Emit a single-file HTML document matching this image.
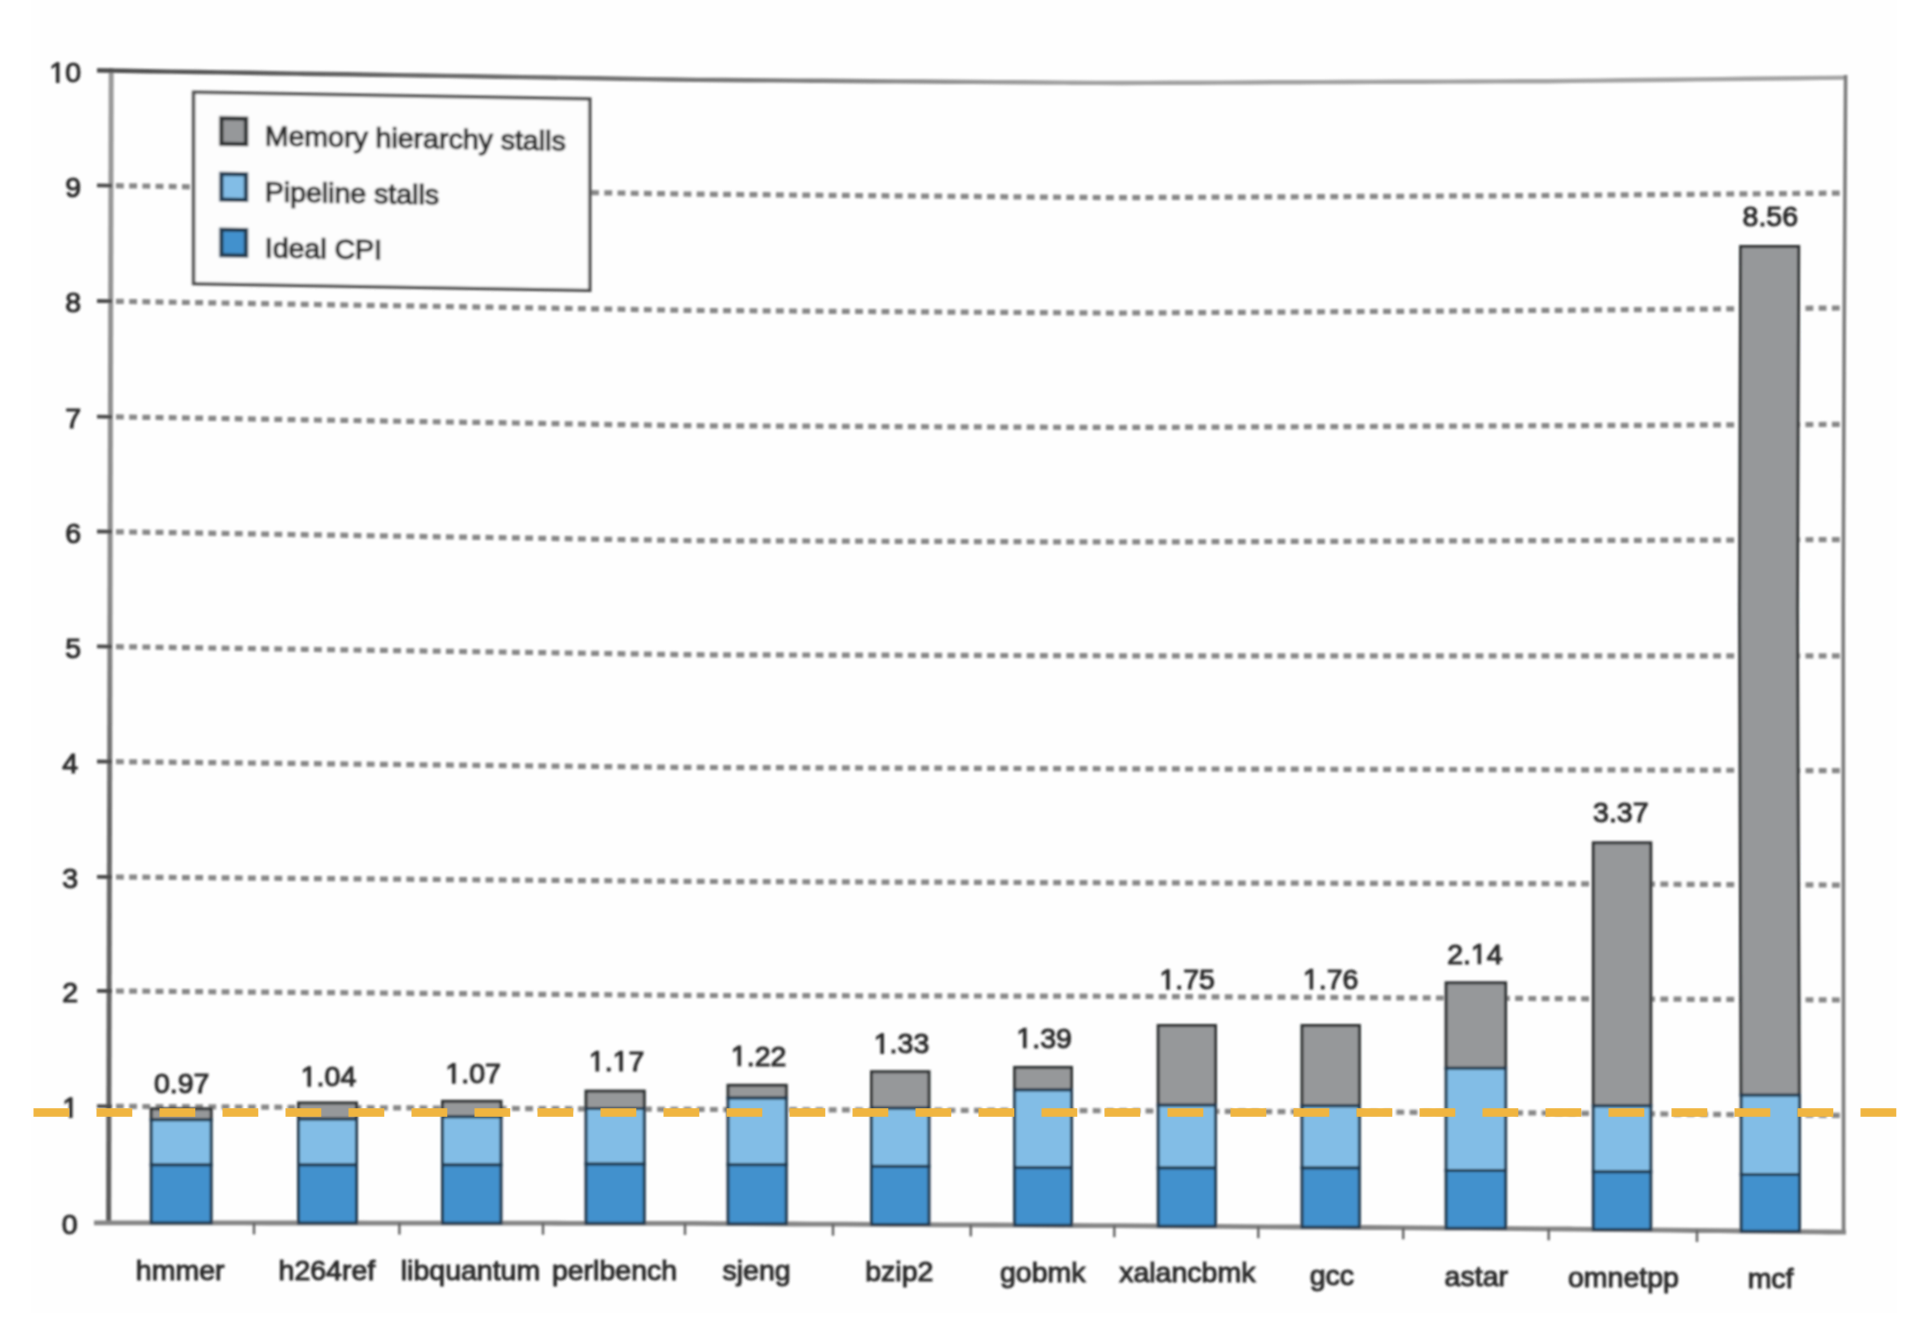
<!DOCTYPE html>
<html><head><meta charset="utf-8"><title>CPI chart</title>
<style>
html,body{margin:0;padding:0;background:#fff;overflow:hidden;}
svg{display:block;}
text{font-family:"Liberation Sans",sans-serif;fill:#2c2c2c;stroke:#2c2c2c;stroke-width:1.05px;}
</style></head><body>
<svg width="1915" height="1342" viewBox="0 0 1915 1342">
<defs>
<filter id="b" x="-5%" y="-5%" width="110%" height="110%"><feGaussianBlur stdDeviation="1.15"/></filter>
<linearGradient id="tl" gradientUnits="userSpaceOnUse" x1="97" y1="0" x2="1847" y2="0">
<stop offset="0" stop-color="#4c4c4c"/><stop offset="0.2" stop-color="#6a6a6a"/><stop offset="0.38" stop-color="#7a7a7a"/><stop offset="0.55" stop-color="#a0a0a0"/><stop offset="1" stop-color="#a4a4a4"/>
</linearGradient>
<linearGradient id="la" gradientUnits="userSpaceOnUse" x1="0" y1="68" x2="0" y2="1224">
<stop offset="0" stop-color="#9a9a9a"/><stop offset="0.45" stop-color="#8a8a8a"/><stop offset="0.65" stop-color="#6a6a6a"/><stop offset="1" stop-color="#5a5a5a"/>
</linearGradient>
</defs>
<rect x="0" y="0" width="1915" height="1342" fill="#ffffff"/>
<rect x="31" y="0" width="1866" height="1313" fill="#fefefe"/>
<g filter="url(#b)">
<line x1="111.2" y1="68" x2="108.6" y2="1224" stroke="url(#la)" stroke-width="5.0"/>
<polyline points="116.0,1106.3 141.0,1106.5 166.0,1106.6 191.0,1106.7 216.0,1106.9 241.0,1107.0 266.0,1107.1 291.0,1107.3 316.0,1107.4 341.0,1107.5 366.0,1107.7 391.0,1107.8 416.0,1107.9 441.0,1108.1 466.0,1108.2 491.0,1108.3 516.0,1108.5 541.0,1108.6 566.0,1108.7 591.0,1108.9 616.0,1109.0 641.0,1109.1 666.0,1109.3 691.0,1109.4 716.0,1109.5 741.0,1109.6 766.0,1109.7 791.0,1109.7 816.0,1109.8 841.0,1109.9 866.0,1110.0 891.0,1110.1 916.0,1110.1 941.0,1110.2 966.0,1110.3 991.0,1110.4 1016.0,1110.5 1041.0,1110.6 1066.0,1110.6 1091.0,1110.7 1116.0,1110.8 1141.0,1110.9 1166.0,1111.1 1191.0,1111.2 1216.0,1111.3 1241.0,1111.4 1266.0,1111.6 1291.0,1111.7 1316.0,1111.8 1341.0,1111.9 1366.0,1112.1 1391.0,1112.2 1416.0,1112.3 1441.0,1112.5 1466.0,1112.6 1491.0,1112.7 1516.0,1112.8 1541.0,1113.0 1566.0,1113.1 1591.0,1113.4 1616.0,1113.6 1641.0,1113.8 1666.0,1114.0 1691.0,1114.2 1716.0,1114.4 1741.0,1114.6 1766.0,1114.8 1791.0,1115.0 1816.0,1115.2 1841.0,1115.4 1843.0,1115.4" fill="none" stroke="#878787" stroke-width="5.2" stroke-dasharray="7.8 5.4"/>
<polyline points="116.0,991.0 141.0,991.2 166.0,991.4 191.0,991.6 216.0,991.8 241.0,992.0 266.0,992.2 291.0,992.4 316.0,992.6 341.0,992.7 366.0,992.9 391.0,993.1 416.0,993.3 441.0,993.5 466.0,993.7 491.0,993.9 516.0,994.1 541.0,994.3 566.0,994.5 591.0,994.6 616.0,994.8 641.0,995.0 666.0,995.2 691.0,995.4 716.0,995.5 741.0,995.5 766.0,995.6 791.0,995.6 816.0,995.7 841.0,995.7 866.0,995.8 891.0,995.8 916.0,995.9 941.0,995.9 966.0,996.0 991.0,996.0 1016.0,996.1 1041.0,996.1 1066.0,996.2 1091.0,996.2 1116.0,996.3 1141.0,996.4 1166.0,996.6 1191.0,996.7 1216.0,996.8 1241.0,997.0 1266.0,997.1 1291.0,997.2 1316.0,997.4 1341.0,997.5 1366.0,997.6 1391.0,997.8 1416.0,997.9 1441.0,998.0 1466.0,998.2 1491.0,998.3 1516.0,998.4 1541.0,998.6 1566.0,998.7 1591.0,998.8 1616.0,998.9 1641.0,999.0 1666.0,999.1 1691.0,999.3 1716.0,999.4 1741.0,999.5 1766.0,999.6 1791.0,999.7 1816.0,999.8 1841.0,1000.0 1843.0,1000.0" fill="none" stroke="#878787" stroke-width="5.2" stroke-dasharray="7.8 5.4"/>
<polyline points="116.0,877.0 141.0,877.2 166.0,877.4 191.0,877.6 216.0,877.8 241.0,878.0 266.0,878.2 291.0,878.4 316.0,878.6 341.0,878.7 366.0,878.9 391.0,879.1 416.0,879.3 441.0,879.5 466.0,879.7 491.0,879.9 516.0,880.1 541.0,880.3 566.0,880.5 591.0,880.6 616.0,880.8 641.0,881.0 666.0,881.2 691.0,881.4 716.0,881.5 741.0,881.6 766.0,881.7 791.0,881.7 816.0,881.8 841.0,881.9 866.0,882.0 891.0,882.1 916.0,882.1 941.0,882.2 966.0,882.3 991.0,882.4 1016.0,882.5 1041.0,882.6 1066.0,882.6 1091.0,882.7 1116.0,882.8 1141.0,882.9 1166.0,882.9 1191.0,883.0 1216.0,883.0 1241.0,883.1 1266.0,883.1 1291.0,883.2 1316.0,883.2 1341.0,883.3 1366.0,883.3 1391.0,883.4 1416.0,883.4 1441.0,883.5 1466.0,883.5 1491.0,883.6 1516.0,883.6 1541.0,883.7 1566.0,883.8 1591.0,883.9 1616.0,884.0 1641.0,884.1 1666.0,884.2 1691.0,884.4 1716.0,884.5 1741.0,884.6 1766.0,884.7 1791.0,884.8 1816.0,884.9 1841.0,885.1 1843.0,885.1" fill="none" stroke="#878787" stroke-width="5.2" stroke-dasharray="7.8 5.4"/>
<polyline points="116.0,761.7 141.0,761.9 166.0,762.2 191.0,762.4 216.0,762.7 241.0,762.9 266.0,763.2 291.0,763.4 316.0,763.7 341.0,763.9 366.0,764.2 391.0,764.4 416.0,764.7 441.0,764.9 466.0,765.2 491.0,765.4 516.0,765.7 541.0,765.9 566.0,766.2 591.0,766.4 616.0,766.7 641.0,766.9 666.0,767.2 691.0,767.4 716.0,767.5 741.0,767.6 766.0,767.7 791.0,767.7 816.0,767.8 841.0,767.9 866.0,768.0 891.0,768.1 916.0,768.1 941.0,768.2 966.0,768.3 991.0,768.4 1016.0,768.5 1041.0,768.6 1066.0,768.6 1091.0,768.7 1116.0,768.8 1141.0,768.9 1166.0,768.9 1191.0,769.0 1216.0,769.0 1241.0,769.1 1266.0,769.1 1291.0,769.2 1316.0,769.2 1341.0,769.3 1366.0,769.3 1391.0,769.4 1416.0,769.4 1441.0,769.5 1466.0,769.5 1491.0,769.6 1516.0,769.6 1541.0,769.7 1566.0,769.8 1591.0,769.8 1616.0,769.9 1641.0,770.0 1666.0,770.1 1691.0,770.2 1716.0,770.2 1741.0,770.3 1766.0,770.4 1791.0,770.5 1816.0,770.6 1841.0,770.6 1843.0,770.6" fill="none" stroke="#878787" stroke-width="5.2" stroke-dasharray="7.8 5.4"/>
<polyline points="116.0,646.7 141.0,647.0 166.0,647.4 191.0,647.7 216.0,648.1 241.0,648.4 266.0,648.8 291.0,649.1 316.0,649.5 341.0,649.8 366.0,650.2 391.0,650.5 416.0,650.9 441.0,651.2 466.0,651.6 491.0,651.9 516.0,652.3 541.0,652.6 566.0,653.0 591.0,653.3 616.0,653.7 641.0,654.0 666.0,654.4 691.0,654.7 716.0,654.8 741.0,654.8 766.0,654.9 791.0,655.0 816.0,655.0 841.0,655.1 866.0,655.2 891.0,655.2 916.0,655.3 941.0,655.3 966.0,655.4 991.0,655.5 1016.0,655.5 1041.0,655.6 1066.0,655.7 1091.0,655.7 1116.0,655.8 1141.0,655.8 1166.0,655.8 1191.0,655.8 1216.0,655.8 1241.0,655.8 1266.0,655.8 1291.0,655.8 1316.0,655.8 1341.0,655.8 1366.0,655.8 1391.0,655.8 1416.0,655.8 1441.0,655.8 1466.0,655.8 1491.0,655.8 1516.0,655.8 1541.0,655.8 1566.0,655.8 1591.0,655.8 1616.0,655.8 1641.0,655.8 1666.0,655.8 1691.0,655.8 1716.0,655.8 1741.0,655.8 1766.0,655.8 1791.0,655.8 1816.0,655.8 1841.0,655.8 1843.0,655.8" fill="none" stroke="#878787" stroke-width="5.2" stroke-dasharray="7.8 5.4"/>
<polyline points="116.0,531.8 141.0,532.2 166.0,532.5 191.0,532.9 216.0,533.3 241.0,533.7 266.0,534.1 291.0,534.5 316.0,534.9 341.0,535.2 366.0,535.6 391.0,536.0 416.0,536.4 441.0,536.8 466.0,537.2 491.0,537.5 516.0,537.9 541.0,538.3 566.0,538.7 591.0,539.1 616.0,539.5 641.0,539.8 666.0,540.2 691.0,540.6 716.0,540.7 741.0,540.8 766.0,540.9 791.0,540.9 816.0,541.0 841.0,541.1 866.0,541.2 891.0,541.3 916.0,541.3 941.0,541.4 966.0,541.5 991.0,541.6 1016.0,541.7 1041.0,541.8 1066.0,541.8 1091.0,541.9 1116.0,542.0 1141.0,541.9 1166.0,541.8 1191.0,541.8 1216.0,541.7 1241.0,541.6 1266.0,541.5 1291.0,541.4 1316.0,541.4 1341.0,541.3 1366.0,541.2 1391.0,541.1 1416.0,541.0 1441.0,540.9 1466.0,540.9 1491.0,540.8 1516.0,540.7 1541.0,540.6 1566.0,540.5 1591.0,540.5 1616.0,540.4 1641.0,540.3 1666.0,540.2 1691.0,540.1 1716.0,540.1 1741.0,540.0 1766.0,539.9 1791.0,539.8 1816.0,539.7 1841.0,539.7 1843.0,539.7" fill="none" stroke="#878787" stroke-width="5.2" stroke-dasharray="7.8 5.4"/>
<polyline points="116.0,416.9 141.0,417.3 166.0,417.6 191.0,418.0 216.0,418.4 241.0,418.8 266.0,419.2 291.0,419.6 316.0,420.0 341.0,420.3 366.0,420.7 391.0,421.1 416.0,421.5 441.0,421.9 466.0,422.3 491.0,422.6 516.0,423.0 541.0,423.4 566.0,423.8 591.0,424.2 616.0,424.6 641.0,424.9 666.0,425.3 691.0,425.7 716.0,425.8 741.0,425.9 766.0,426.0 791.0,426.1 816.0,426.2 841.0,426.3 866.0,426.4 891.0,426.6 916.0,426.7 941.0,426.8 966.0,426.9 991.0,427.0 1016.0,427.1 1041.0,427.2 1066.0,427.3 1091.0,427.4 1116.0,427.5 1141.0,427.4 1166.0,427.3 1191.0,427.2 1216.0,427.1 1241.0,427.0 1266.0,426.9 1291.0,426.8 1316.0,426.7 1341.0,426.6 1366.0,426.5 1391.0,426.4 1416.0,426.2 1441.0,426.1 1466.0,426.0 1491.0,425.9 1516.0,425.8 1541.0,425.7 1566.0,425.6 1591.0,425.5 1616.0,425.4 1641.0,425.3 1666.0,425.2 1691.0,425.0 1716.0,424.9 1741.0,424.8 1766.0,424.7 1791.0,424.6 1816.0,424.5 1841.0,424.3 1843.0,424.3" fill="none" stroke="#878787" stroke-width="5.2" stroke-dasharray="7.8 5.4"/>
<polyline points="116.0,301.3 141.0,301.7 166.0,302.1 191.0,302.5 216.0,302.9 241.0,303.3 266.0,303.7 291.0,304.1 316.0,304.5 341.0,304.9 366.0,305.3 391.0,305.6 416.0,306.0 441.0,306.4 466.0,306.8 491.0,307.2 516.0,307.6 541.0,308.0 566.0,308.4 591.0,308.8 616.0,309.2 641.0,309.6 666.0,310.0 691.0,310.4 716.0,310.6 741.0,310.7 766.0,310.9 791.0,311.0 816.0,311.2 841.0,311.4 866.0,311.5 891.0,311.7 916.0,311.8 941.0,312.0 966.0,312.2 991.0,312.3 1016.0,312.5 1041.0,312.6 1066.0,312.8 1091.0,312.9 1116.0,313.1 1141.0,312.9 1166.0,312.8 1191.0,312.6 1216.0,312.5 1241.0,312.3 1266.0,312.2 1291.0,312.0 1316.0,311.8 1341.0,311.7 1366.0,311.5 1391.0,311.4 1416.0,311.2 1441.0,311.1 1466.0,310.9 1491.0,310.8 1516.0,310.6 1541.0,310.4 1566.0,310.3 1591.0,310.0 1616.0,309.8 1641.0,309.6 1666.0,309.4 1691.0,309.2 1716.0,309.0 1741.0,308.8 1766.0,308.6 1791.0,308.4 1816.0,308.2 1841.0,308.0 1843.0,308.0" fill="none" stroke="#878787" stroke-width="5.2" stroke-dasharray="7.8 5.4"/>
<polyline points="116.0,185.7 141.0,186.0 166.0,186.4 191.0,186.8 216.0,187.1 241.0,187.5 266.0,187.9 291.0,188.2 316.0,188.6 341.0,189.0 366.0,189.3 391.0,189.7 416.0,190.1 441.0,190.4 466.0,190.8 491.0,191.2 516.0,191.5 541.0,191.9 566.0,192.3 591.0,192.6 616.0,193.0 641.0,193.4 666.0,193.7 691.0,194.1 716.0,194.3 741.0,194.5 766.0,194.7 791.0,195.0 816.0,195.2 841.0,195.4 866.0,195.6 891.0,195.8 916.0,196.0 941.0,196.2 966.0,196.4 991.0,196.6 1016.0,196.9 1041.0,197.1 1066.0,197.3 1091.0,197.5 1116.0,197.7 1141.0,197.6 1166.0,197.4 1191.0,197.3 1216.0,197.2 1241.0,197.1 1266.0,196.9 1291.0,196.8 1316.0,196.7 1341.0,196.6 1366.0,196.4 1391.0,196.3 1416.0,196.2 1441.0,196.0 1466.0,195.9 1491.0,195.8 1516.0,195.7 1541.0,195.5 1566.0,195.4 1591.0,195.1 1616.0,194.9 1641.0,194.7 1666.0,194.5 1691.0,194.3 1716.0,194.1 1741.0,193.9 1766.0,193.7 1791.0,193.5 1816.0,193.3 1841.0,193.1 1843.0,193.1" fill="none" stroke="#878787" stroke-width="5.2" stroke-dasharray="7.8 5.4"/>
<line x1="97" y1="1222.8" x2="112" y2="1222.8" stroke="#4a4a4a" stroke-width="3.8"/>
<line x1="97" y1="1106.2" x2="112" y2="1106.3" stroke="#4a4a4a" stroke-width="3.8"/>
<line x1="97" y1="990.9" x2="112" y2="991.0" stroke="#4a4a4a" stroke-width="3.8"/>
<line x1="97" y1="876.9" x2="112" y2="877.0" stroke="#4a4a4a" stroke-width="3.8"/>
<line x1="97" y1="761.5" x2="112" y2="761.6" stroke="#4a4a4a" stroke-width="3.8"/>
<line x1="97" y1="646.4" x2="112" y2="646.6" stroke="#4a4a4a" stroke-width="3.8"/>
<line x1="97" y1="531.5" x2="112" y2="531.7" stroke="#4a4a4a" stroke-width="3.8"/>
<line x1="97" y1="416.6" x2="112" y2="416.8" stroke="#4a4a4a" stroke-width="3.8"/>
<line x1="97" y1="301.0" x2="112" y2="301.2" stroke="#4a4a4a" stroke-width="3.8"/>
<line x1="97" y1="185.4" x2="112" y2="185.6" stroke="#4a4a4a" stroke-width="3.8"/>
<line x1="97" y1="70.4" x2="112" y2="70.6" stroke="#4a4a4a" stroke-width="3.8"/>
<polyline points="97.0,70.4 122.0,70.8 147.0,71.2 172.0,71.6 197.0,72.0 222.0,72.4 247.0,72.8 272.0,73.2 297.0,73.6 322.0,74.0 347.0,74.3 372.0,74.7 397.0,75.1 422.0,75.5 447.0,75.9 472.0,76.3 497.0,76.7 522.0,77.1 547.0,77.5 572.0,77.9 597.0,78.3 622.0,78.7 647.0,79.1 672.0,79.5 697.0,79.9 722.0,80.0 747.0,80.2 772.0,80.4 797.0,80.6 822.0,80.8 847.0,81.0 872.0,81.2 897.0,81.4 922.0,81.5 947.0,81.7 972.0,81.9 997.0,82.1 1022.0,82.3 1047.0,82.5 1072.0,82.7 1097.0,82.9 1122.0,83.0 1147.0,82.9 1172.0,82.8 1197.0,82.7 1222.0,82.6 1247.0,82.5 1272.0,82.3 1297.0,82.2 1322.0,82.1 1347.0,82.0 1372.0,81.9 1397.0,81.8 1422.0,81.7 1447.0,81.6 1472.0,81.5 1497.0,81.4 1522.0,81.3 1547.0,81.2 1572.0,80.9 1597.0,80.6 1622.0,80.3 1647.0,80.0 1672.0,79.7 1697.0,79.4 1722.0,79.1 1747.0,78.8 1772.0,78.5 1797.0,78.2 1822.0,77.9 1847.0,77.6" fill="none" stroke="url(#tl)" stroke-width="4.4"/>
<polyline points="1845.6,75 1844.2,330 1843.2,610 1843.4,900 1843.6,1233" fill="none" stroke="#7a7a7a" stroke-width="3.6"/>
<polyline points="94.0,1222.8 119.0,1222.8 144.0,1222.8 169.0,1222.9 194.0,1222.9 219.0,1222.9 244.0,1222.9 269.0,1223.0 294.0,1223.0 319.0,1223.0 344.0,1223.0 369.0,1223.1 394.0,1223.1 419.0,1223.1 444.0,1223.1 469.0,1223.2 494.0,1223.2 519.0,1223.2 544.0,1223.2 569.0,1223.3 594.0,1223.3 619.0,1223.3 644.0,1223.4 669.0,1223.4 694.0,1223.4 719.0,1223.6 744.0,1223.7 769.0,1223.8 794.0,1224.0 819.0,1224.1 844.0,1224.2 869.0,1224.4 894.0,1224.5 919.0,1224.6 944.0,1224.8 969.0,1224.9 994.0,1225.0 1019.0,1225.2 1044.0,1225.3 1069.0,1225.5 1094.0,1225.6 1119.0,1225.7 1144.0,1225.9 1169.0,1226.1 1194.0,1226.3 1219.0,1226.4 1244.0,1226.6 1269.0,1226.8 1294.0,1227.0 1319.0,1227.2 1344.0,1227.3 1369.0,1227.5 1394.0,1227.7 1419.0,1227.9 1444.0,1228.1 1469.0,1228.2 1494.0,1228.4 1519.0,1228.6 1544.0,1228.8 1569.0,1229.0 1594.0,1229.3 1619.0,1229.6 1644.0,1229.9 1669.0,1230.2 1694.0,1230.5 1719.0,1230.7 1744.0,1231.0 1769.0,1231.3 1794.0,1231.6 1819.0,1231.9 1844.0,1232.2 1846.0,1232.2" fill="none" stroke="#858585" stroke-width="4.8"/>
<line x1="254" y1="1222.9" x2="254" y2="1234.4" stroke="#5e5e5e" stroke-width="2.4"/>
<line x1="399.4" y1="1223.1" x2="399.4" y2="1234.6" stroke="#5e5e5e" stroke-width="2.4"/>
<line x1="543" y1="1223.2" x2="543" y2="1234.7" stroke="#5e5e5e" stroke-width="2.4"/>
<line x1="685" y1="1223.4" x2="685" y2="1234.9" stroke="#5e5e5e" stroke-width="2.4"/>
<line x1="833" y1="1224.2" x2="833" y2="1235.7" stroke="#5e5e5e" stroke-width="2.4"/>
<line x1="970.8" y1="1224.9" x2="970.8" y2="1236.4" stroke="#5e5e5e" stroke-width="2.4"/>
<line x1="1114.3" y1="1225.7" x2="1114.3" y2="1237.2" stroke="#5e5e5e" stroke-width="2.4"/>
<line x1="1258.3" y1="1226.7" x2="1258.3" y2="1238.2" stroke="#5e5e5e" stroke-width="2.4"/>
<line x1="1403.2" y1="1227.8" x2="1403.2" y2="1239.3" stroke="#5e5e5e" stroke-width="2.4"/>
<line x1="1548.7" y1="1228.8" x2="1548.7" y2="1240.3" stroke="#5e5e5e" stroke-width="2.4"/>
<line x1="1697" y1="1230.5" x2="1697" y2="1242.0" stroke="#5e5e5e" stroke-width="2.4"/>
<text x="61.65" y="1233.99" font-size="28.5">0</text>
<text x="62.35" y="1117.43" font-size="28.5"> </text>
<path d="M515,0L515,1237L197,1010L197,1180L530,1409L696,1409L696,0Z" transform="translate(62.35 1117.43) scale(0.01392 -0.01392)" fill="#2c2c2c" stroke="#2c2c2c" stroke-width="75.5"/>
<text x="62.35" y="1002.09" font-size="28.5">2</text>
<text x="62.35" y="888.09" font-size="28.5">3</text>
<text x="62.35" y="772.66" font-size="28.5">4</text>
<text x="65.15" y="657.60" font-size="28.5">5</text>
<text x="65.15" y="542.68" font-size="28.5">6</text>
<text x="65.15" y="427.78" font-size="28.5">7</text>
<text x="65.15" y="312.18" font-size="28.5">8</text>
<text x="65.15" y="196.59" font-size="28.5">9</text>
<text x="49.30" y="82.38" font-size="28.5"> 0</text>
<path d="M515,0L515,1237L197,1010L197,1180L530,1409L696,1409L696,0Z" transform="translate(49.30 82.38) scale(0.01392 -0.01392)" fill="#2c2c2c" stroke="#2c2c2c" stroke-width="75.5"/>
<rect x="151.2" y="1108.8" width="60.0" height="11.0" fill="#96989a" stroke="#2e3032" stroke-width="3.0"/>
<rect x="151.2" y="1119.8" width="60.0" height="45.1" fill="#82bde6" stroke="#203a50" stroke-width="3.0"/>
<rect x="151.2" y="1164.9" width="60.0" height="58.0" fill="#4391cd" stroke="#203a50" stroke-width="3.0"/>
<text x="153.97" y="1092.50" font-size="28.5">0.97</text>
<text x="180.2" y="1279.5" font-size="28.5" text-anchor="middle">hmmer</text>
<rect x="298.5" y="1102.9" width="58.0" height="16.2" fill="#96989a" stroke="#2e3032" stroke-width="3.0"/>
<rect x="298.5" y="1119.1" width="58.0" height="45.8" fill="#82bde6" stroke="#203a50" stroke-width="3.0"/>
<rect x="298.5" y="1164.9" width="58.0" height="58.1" fill="#4391cd" stroke="#203a50" stroke-width="3.0"/>
<text x="300.77" y="1086.30" font-size="28.5"> .04</text>
<path d="M515,0L515,1237L197,1010L197,1180L530,1409L696,1409L696,0Z" transform="translate(300.77 1086.30) scale(0.01392 -0.01392)" fill="#2c2c2c" stroke="#2c2c2c" stroke-width="75.5"/>
<text x="326.9" y="1279.8" font-size="28.5" text-anchor="middle">h264ref</text>
<rect x="442.5" y="1101.3" width="58.5" height="15.5" fill="#96989a" stroke="#2e3032" stroke-width="3.0"/>
<rect x="442.5" y="1116.8" width="58.5" height="48.1" fill="#82bde6" stroke="#203a50" stroke-width="3.0"/>
<rect x="442.5" y="1164.9" width="58.5" height="58.3" fill="#4391cd" stroke="#203a50" stroke-width="3.0"/>
<text x="445.37" y="1083.10" font-size="28.5"> .07</text>
<path d="M515,0L515,1237L197,1010L197,1180L530,1409L696,1409L696,0Z" transform="translate(445.37 1083.10) scale(0.01392 -0.01392)" fill="#2c2c2c" stroke="#2c2c2c" stroke-width="75.5"/>
<text x="470.5" y="1279.5" font-size="28.5" text-anchor="middle">libquantum</text>
<rect x="586.0" y="1091.1" width="58.3" height="17.4" fill="#96989a" stroke="#2e3032" stroke-width="3.0"/>
<rect x="586.0" y="1108.5" width="58.3" height="55.6" fill="#82bde6" stroke="#203a50" stroke-width="3.0"/>
<rect x="586.0" y="1164.1" width="58.3" height="59.2" fill="#4391cd" stroke="#203a50" stroke-width="3.0"/>
<text x="588.87" y="1070.90" font-size="28.5"> . 7</text>
<path d="M515,0L515,1237L197,1010L197,1180L530,1409L696,1409L696,0Z" transform="translate(588.87 1070.90) scale(0.01392 -0.01392)" fill="#2c2c2c" stroke="#2c2c2c" stroke-width="75.5"/>
<path d="M515,0L515,1237L197,1010L197,1180L530,1409L696,1409L696,0Z" transform="translate(612.63 1070.90) scale(0.01392 -0.01392)" fill="#2c2c2c" stroke="#2c2c2c" stroke-width="75.5"/>
<text x="614.5" y="1280.0" font-size="28.5" text-anchor="middle">perlbench</text>
<rect x="728.0" y="1085.3" width="58.3" height="12.8" fill="#96989a" stroke="#2e3032" stroke-width="3.0"/>
<rect x="728.0" y="1098.1" width="58.3" height="66.6" fill="#82bde6" stroke="#203a50" stroke-width="3.0"/>
<rect x="728.0" y="1164.7" width="58.3" height="59.1" fill="#4391cd" stroke="#203a50" stroke-width="3.0"/>
<text x="730.87" y="1065.70" font-size="28.5"> .22</text>
<path d="M515,0L515,1237L197,1010L197,1180L530,1409L696,1409L696,0Z" transform="translate(730.87 1065.70) scale(0.01392 -0.01392)" fill="#2c2c2c" stroke="#2c2c2c" stroke-width="75.5"/>
<text x="756.6" y="1280.3" font-size="28.5" text-anchor="middle">sjeng</text>
<rect x="871.5" y="1071.7" width="57.5" height="36.5" fill="#96989a" stroke="#2e3032" stroke-width="3.0"/>
<rect x="871.5" y="1108.2" width="57.5" height="58.2" fill="#82bde6" stroke="#203a50" stroke-width="3.0"/>
<rect x="871.5" y="1166.4" width="57.5" height="58.1" fill="#4391cd" stroke="#203a50" stroke-width="3.0"/>
<text x="873.77" y="1053.40" font-size="28.5"> .33</text>
<path d="M515,0L515,1237L197,1010L197,1180L530,1409L696,1409L696,0Z" transform="translate(873.77 1053.40) scale(0.01392 -0.01392)" fill="#2c2c2c" stroke="#2c2c2c" stroke-width="75.5"/>
<text x="899.3" y="1280.6" font-size="28.5" text-anchor="middle">bzip2</text>
<rect x="1014.6" y="1067.4" width="56.9" height="22.6" fill="#96989a" stroke="#2e3032" stroke-width="3.0"/>
<rect x="1014.6" y="1090.0" width="56.9" height="77.6" fill="#82bde6" stroke="#203a50" stroke-width="3.0"/>
<rect x="1014.6" y="1167.6" width="56.9" height="57.7" fill="#4391cd" stroke="#203a50" stroke-width="3.0"/>
<text x="1016.37" y="1047.80" font-size="28.5"> .39</text>
<path d="M515,0L515,1237L197,1010L197,1180L530,1409L696,1409L696,0Z" transform="translate(1016.37 1047.80) scale(0.01392 -0.01392)" fill="#2c2c2c" stroke="#2c2c2c" stroke-width="75.5"/>
<text x="1042.8" y="1282.3" font-size="28.5" text-anchor="middle">gobmk</text>
<rect x="1158.2" y="1025.5" width="57.3" height="79.7" fill="#96989a" stroke="#2e3032" stroke-width="3.0"/>
<rect x="1158.2" y="1105.2" width="57.3" height="62.8" fill="#82bde6" stroke="#203a50" stroke-width="3.0"/>
<rect x="1158.2" y="1168.0" width="57.3" height="58.2" fill="#4391cd" stroke="#203a50" stroke-width="3.0"/>
<text x="1159.47" y="989.30" font-size="28.5"> .75</text>
<path d="M515,0L515,1237L197,1010L197,1180L530,1409L696,1409L696,0Z" transform="translate(1159.47 989.30) scale(0.01392 -0.01392)" fill="#2c2c2c" stroke="#2c2c2c" stroke-width="75.5"/>
<text x="1187.3" y="1282.3" font-size="28.5" text-anchor="middle">xalancbmk</text>
<rect x="1302.0" y="1025.5" width="57.4" height="80.4" fill="#96989a" stroke="#2e3032" stroke-width="3.0"/>
<rect x="1302.0" y="1105.9" width="57.4" height="62.1" fill="#82bde6" stroke="#203a50" stroke-width="3.0"/>
<rect x="1302.0" y="1168.0" width="57.4" height="59.2" fill="#4391cd" stroke="#203a50" stroke-width="3.0"/>
<text x="1302.97" y="989.00" font-size="28.5"> .76</text>
<path d="M515,0L515,1237L197,1010L197,1180L530,1409L696,1409L696,0Z" transform="translate(1302.97 989.00) scale(0.01392 -0.01392)" fill="#2c2c2c" stroke="#2c2c2c" stroke-width="75.5"/>
<text x="1331.9" y="1284.6" font-size="28.5" text-anchor="middle">gcc</text>
<rect x="1446.1" y="982.8" width="59.5" height="85.5" fill="#96989a" stroke="#2e3032" stroke-width="3.0"/>
<rect x="1446.1" y="1068.3" width="59.5" height="102.2" fill="#82bde6" stroke="#203a50" stroke-width="3.0"/>
<rect x="1446.1" y="1170.5" width="59.5" height="57.8" fill="#4391cd" stroke="#203a50" stroke-width="3.0"/>
<text x="1447.17" y="963.80" font-size="28.5">2. 4</text>
<path d="M515,0L515,1237L197,1010L197,1180L530,1409L696,1409L696,0Z" transform="translate(1470.93 963.80) scale(0.01392 -0.01392)" fill="#2c2c2c" stroke="#2c2c2c" stroke-width="75.5"/>
<text x="1476.3" y="1285.7" font-size="28.5" text-anchor="middle">astar</text>
<rect x="1593.3" y="842.8" width="57.5" height="263.1" fill="#96989a" stroke="#2e3032" stroke-width="3.0"/>
<rect x="1593.3" y="1105.9" width="57.5" height="65.9" fill="#82bde6" stroke="#203a50" stroke-width="3.0"/>
<rect x="1593.3" y="1171.8" width="57.5" height="57.8" fill="#4391cd" stroke="#203a50" stroke-width="3.0"/>
<text x="1593.07" y="822.30" font-size="28.5">3.37</text>
<text x="1623.4" y="1287.1" font-size="28.5" text-anchor="middle">omnetpp</text>
<path d="M1740.6,246.4 L1798.7,246.4 L1797.4,610 L1799.3,1095.2 L1741.0,1095.2 L1739.6,610 Z" fill="#96989a" stroke="#2e3032" stroke-width="3.0" stroke-linejoin="miter"/>
<rect x="1741.2" y="1095.2" width="58.3" height="79.3" fill="#82bde6" stroke="#203a50" stroke-width="3.0"/>
<rect x="1741.2" y="1174.5" width="58.3" height="56.8" fill="#4391cd" stroke="#203a50" stroke-width="3.0"/>
<text x="1742.57" y="225.50" font-size="28.5">8.56</text>
<text x="1770.6" y="1288.1" font-size="28.5" text-anchor="middle">mcf</text>
<g transform="translate(193.6 92.2) skewY(0.974)">
<rect x="0" y="0" width="396.3" height="191.5" fill="#fdfdfd" stroke="#4a4a4a" stroke-width="3.2"/>
<rect x="27.7" y="25.5" width="24.8" height="25.7" fill="#96989a" stroke="#2e3032" stroke-width="4"/>
<text x="71.2" y="52.5" font-size="28.5">Memory hierarchy stalls</text>
<rect x="27.7" y="81.2" width="24.8" height="25.7" fill="#82bde6" stroke="#203a50" stroke-width="4"/>
<text x="71.2" y="108.2" font-size="28.5">Pipeline stalls</text>
<rect x="27.7" y="136.9" width="24.8" height="25.7" fill="#4391cd" stroke="#203a50" stroke-width="4"/>
<text x="71.2" y="163.8" font-size="28.5">Ideal CPI</text>
</g>
</g>
<line x1="33.5" y1="1112.5" x2="1897" y2="1112.5" stroke="#f0b540" stroke-width="8.6" stroke-dasharray="35.8 27.2"/>
</svg></body></html>
